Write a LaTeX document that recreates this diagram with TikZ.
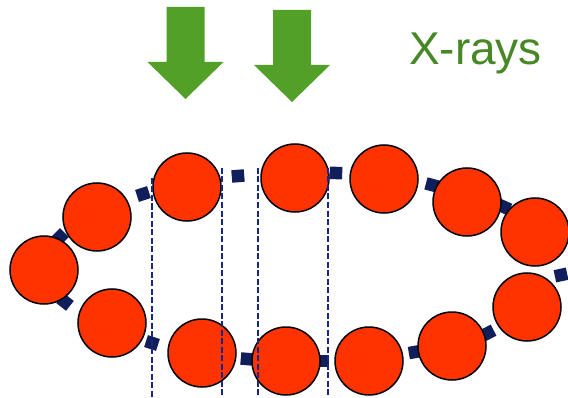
\documentclass[tikz,border=0pt]{standalone}
\usepackage{fontspec}
\setmainfont{Liberation Sans}
\usetikzlibrary{positioning}

\definecolor{beadred}{RGB}{255,51,0}
\definecolor{linkblue}{RGB}{16,30,92}
\definecolor{slitblue}{RGB}{24,40,130}
\definecolor{rayarrow}{RGB}{82,160,40}
\definecolor{raytext}{RGB}{70,135,38}

\tikzset{
  bead/.style={circle, draw=black, line width=1.5pt, fill=beadred, minimum size=68pt, inner sep=0pt},
  linker/.style={rectangle, fill=linkblue, minimum size=12.5pt, inner sep=0pt},
  slit/.style={slitblue, line width=1.2pt, dash pattern=on 6pt off 2.5pt}
}

\begin{document}
\begin{tikzpicture}[x=1pt, y=1pt]
  \useasboundingbox (0,0) rectangle (568,397);

  % Linkers between the beads
  \foreach \sx/\sy/\sa [count=\i] in {60/160/45, 143/203/18, 238/221/5, 336/224/-1,
      432/212/-15, 504/190/-24, 561/122/12, 488/64/27, 415/45/10,
      323/36/0, 247/38/-5, 152/54/-18, 65/95/-38}
    \node[linker, rotate=\sa] (s\i) at (\sx,\sy) {};

  % Beads of the ring
  \foreach \bx/\by [count=\i] in {44/127, 97/180, 187/210, 295/219, 384/218,
      467/195, 535/165, 527/90, 452/51, 369/36, 286/36, 202/44, 112/74}
    \node[bead] (c\i) at (\bx,\by) {};

  % Slits
  \foreach \lx/\ly [count=\i] in {152/219, 222/229, 258/229, 328/229} {
    \coordinate (t\i) at (\lx,\ly);
    \coordinate (b\i) at (\lx,0);
    \draw[slit] (t\i) -- (b\i);
  }

  % Incoming X-rays
  \foreach \ax/\ay in {185.5/390, 292/387}
    \fill[rayarrow] ({\ax-19},\ay) -- ({\ax+19},\ay) -- ({\ax+19},{\ay-55})
      -- ({\ax+38},{\ay-55}) -- (\ax,{\ay-92}) -- ({\ax-38},{\ay-55})
      -- ({\ax-19},{\ay-55}) -- cycle;
  \node[raytext, anchor=base, inner sep=0pt, font=\fontsize{46}{50}\selectfont] (rays) at (475.5,332) {X-rays};
\end{tikzpicture}
\end{document}
